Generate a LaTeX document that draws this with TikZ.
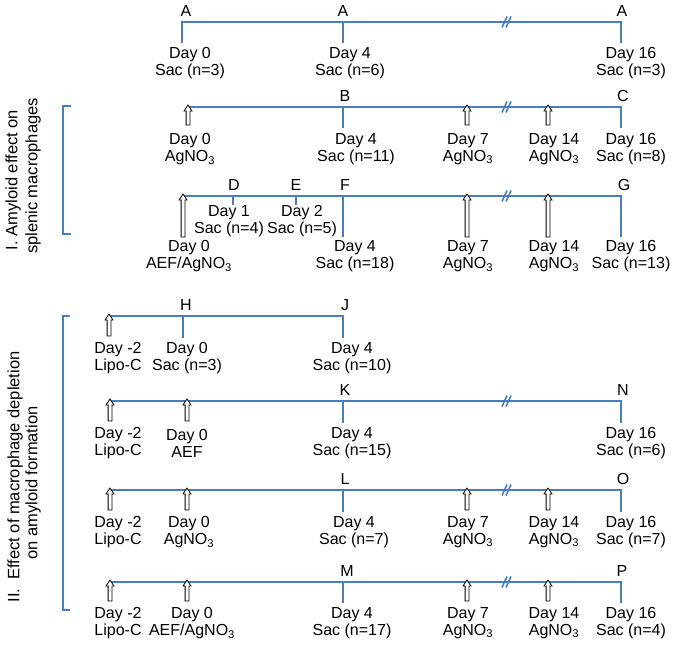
\documentclass[tikz,border=0pt]{standalone}
\usepackage{fontspec}
\setmainfont{Liberation Sans}
\definecolor{tl}{RGB}{74,126,187}
\newcommand\hupar[3]{\path[harrow] (#1-1.9,#3) -- (#1-1.9,#2+6) -- (#1-4,#2+6) -- (#1,#2) -- (#1+4,#2+6) -- (#1+1.9,#2+6) -- (#1+1.9,#3) -- cycle;}
\newcommand\brkmark[2]{\draw[brk] (#1-4,#2+5.5) -- (#1+1,#2-5.5); \draw[brk] (#1,#2+5.5) -- (#1+5,#2-5.5);}
\begin{document}
\begin{tikzpicture}[x=1pt,y=-1pt,
  tline/.style={draw=tl, line width=2.6pt},
  brk/.style={draw=tl, line width=1.6pt},
  brack/.style={draw=tl, line width=1.2pt},
  lbl/.style={font=\fontsize{16}{17}\selectfont, inner sep=0pt},
  txt/.style={lbl, align=center},
  side/.style={font=\fontsize{16.5}{18}\selectfont, inner sep=0pt, rotate=90},
  harrow/.style={draw=black, fill=white, line width=0.8pt}]
\useasboundingbox (0,0) rectangle (685,645);

% ---------- Row 1 ----------
\draw[tline] (182,43) -- (182,22) -- (621,22) -- (621,43);
\draw[tline] (343,22) -- (343,43);
\brkmark{506}{22}
\node[lbl] (a1) at (186,11) {A};
\node[lbl] (a2) at (343,11) {A};
\node[lbl] (a3) at (622,11) {A};
\node[txt] (r1t1) at (190,63) {Day 0\\Sac (n=3)};
\node[txt] (r1t2) at (350,63) {Day 4\\Sac (n=6)};
\node[txt] (r1t3) at (631,63) {Day 16\\Sac (n=3)};

% ---------- Row 2 ----------
\draw[tline] (188,107) -- (621,107) -- (621,128);
\draw[tline] (343,107) -- (343,128);
\brkmark{506}{107}
\hupar{188}{105}{125}
\hupar{467}{105}{125}
\hupar{548}{105}{125}
\node[lbl] (b) at (345,96) {B};
\node[lbl] (c) at (623,96) {C};
\node[txt] (r2t1) at (190,149) {Day 0\\AgNO\textsubscript{3}};
\node[txt] (r2t2) at (356,149) {Day 4\\Sac (n=11)};
\node[txt] (r2t3) at (468,149) {Day 7\\AgNO\textsubscript{3}};
\node[txt] (r2t4) at (554,149) {Day 14\\AgNO\textsubscript{3}};
\node[txt] (r2t5) at (631,149) {Day 16\\Sac (n=8)};

% ---------- Row 3 ----------
\draw[tline] (183,196) -- (621,196) -- (621,237);
\draw[tline] (233,196) -- (233,205);
\draw[tline] (296,196) -- (296,205);
\draw[tline] (343,196) -- (343,237);
\brkmark{506}{196}
\hupar{183}{194}{237}
\hupar{467}{194}{237}
\hupar{548}{194}{237}
\node[lbl] (d) at (234,185) {D};
\node[lbl] (e) at (296,185) {E};
\node[lbl] (f) at (345,185) {F};
\node[lbl] (g) at (624,185) {G};
\node[txt] (r3s1) at (229,221.5) {Day 1\\Sac (n=4)};
\node[txt] (r3s2) at (302,221.5) {Day 2\\Sac (n=5)};
\node[txt] (r3t1) at (189,256.5) {Day 0\\AEF/AgNO\textsubscript{3}};
\node[txt] (r3t2) at (355,256.5) {Day 4\\Sac (n=18)};
\node[txt] (r3t3) at (468,256.5) {Day 7\\AgNO\textsubscript{3}};
\node[txt] (r3t4) at (554,256.5) {Day 14\\AgNO\textsubscript{3}};
\node[txt] (r3t5) at (631,256.5) {Day 16\\Sac (n=13)};

% ---------- Row H ----------
\draw[tline] (109,316) -- (343,316) -- (343,338);
\draw[tline] (183,316) -- (183,338);
\hupar{109}{314}{336}
\node[lbl] (h) at (186,305) {H};
\node[lbl] (j) at (345,305) {J};
\node[txt] (r4t1) at (118,358) {Day -2\\Lipo-C};
\node[txt] (r4t2) at (187,358) {Day 0\\Sac (n=3)};
\node[txt] (r4t3) at (352,358) {Day 4\\Sac (n=10)};

% ---------- Row K ----------
\draw[tline] (110,401) -- (621,401) -- (621,423);
\draw[tline] (343,401) -- (343,423);
\brkmark{506}{401}
\hupar{110}{399}{421}
\hupar{187}{399}{421}
\node[lbl] (k) at (345,390) {K};
\node[lbl] (n) at (623,390) {N};
\node[txt] (r5t1) at (118,443) {Day -2\\Lipo-C};
\node[txt] (r5t2) at (187,443) {Day 0\\AEF};
\node[txt] (r5t3) at (352,443) {Day 4\\Sac (n=15)};
\node[txt] (r5t4) at (631,443) {Day 16\\Sac (n=6)};

% ---------- Row L ----------
\draw[tline] (110,490) -- (621,490) -- (621,512);
\draw[tline] (343,490) -- (343,512);
\brkmark{506}{490}
\hupar{110}{488}{510}
\hupar{187}{488}{510}
\hupar{467}{488}{510}
\hupar{548}{488}{510}
\node[lbl] (l) at (345,479) {L};
\node[lbl] (o) at (623,479) {O};
\node[txt] (r6t1) at (118,532) {Day -2\\Lipo-C};
\node[txt] (r6t2) at (189,532) {Day 0\\AgNO\textsubscript{3}};
\node[txt] (r6t3) at (354,532) {Day 4\\Sac (n=7)};
\node[txt] (r6t4) at (468,532) {Day 7\\AgNO\textsubscript{3}};
\node[txt] (r6t5) at (554,532) {Day 14\\AgNO\textsubscript{3}};
\node[txt] (r6t6) at (631,532) {Day 16\\Sac (n=7)};

% ---------- Row M ----------
\draw[tline] (110,582) -- (621,582) -- (621,603);
\draw[tline] (343,582) -- (343,603);
\brkmark{506}{582}
\hupar{110}{580}{601}
\hupar{187}{580}{601}
\hupar{467}{580}{601}
\hupar{548}{580}{601}
\node[lbl] (m) at (347,571) {M};
\node[lbl] (p) at (622,571) {P};
\node[txt] (r7t1) at (118,623) {Day -2\\Lipo-C};
\node[txt] (r7t2) at (192,623) {Day 0\\AEF/AgNO\textsubscript{3}};
\node[txt] (r7t3) at (352,623) {Day 4\\Sac (n=17)};
\node[txt] (r7t4) at (468,623) {Day 7\\AgNO\textsubscript{3}};
\node[txt] (r7t5) at (554,623) {Day 14\\AgNO\textsubscript{3}};
\node[txt] (r7t6) at (631,623) {Day 16\\Sac (n=4)};

% ---------- Brackets and side labels ----------
\draw[brack] (71,106) -- (63,106) -- (63,234) -- (71,234);
\draw[brack] (70,316) -- (63,316) -- (63,610) -- (70,610);
\node[side] (s1a) at (13,180) {I. Amyloid effect on};
\node[side] (s1b) at (33,176) {splenic macrophages};
\node[side] (s2a) at (15,477) {II.~ Effect of macrophage depletion};
\node[side] (s2b) at (33,483) {on amyloid formation};
\end{tikzpicture}
\end{document}
